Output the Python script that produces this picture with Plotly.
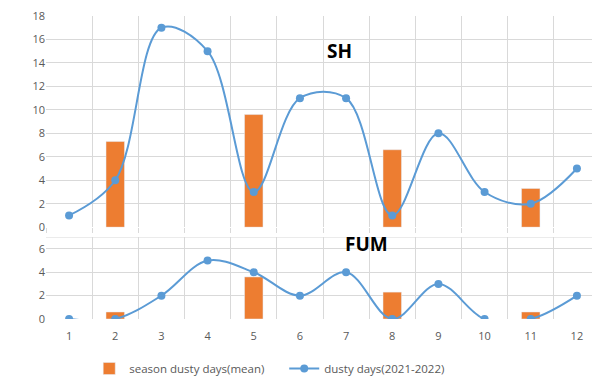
import plotly.graph_objects as go

months = list(range(1, 13))
month_labels = [str(m) for m in months]
sh_dusty = [1, 4, 17, 15, 3, 11, 11, 1, 8, 3, 2, 5]
fum_dusty = [0, 0, 2, 5, 4, 2, 4, 0, 3, 0, 0, 2]
season_months = [2, 5, 8, 11]
sh_season = [7.3, 9.6, 6.6, 3.3]
fum_season = [0.6, 3.6, 2.3, 0.6]

BLUE = "#5B9BD5"
ORANGE = "#ED7D31"
GRID = "#D9D9D9"
TICKC = "#595959"

fig = go.Figure()
fig.add_trace(go.Bar(x=season_months, y=sh_season, marker_color=ORANGE, width=0.4,
                     name="season dusty days(mean)", xaxis="x", yaxis="y"))
fig.add_trace(go.Scatter(x=months, y=sh_dusty, mode="lines+markers",
                         line=dict(color=BLUE, width=2, shape="spline", smoothing=1.0),
                         marker=dict(color=BLUE, size=8),
                         name="dusty days(2021-2022)", xaxis="x", yaxis="y"))
fig.add_trace(go.Bar(x=season_months, y=fum_season, marker_color=ORANGE, width=0.4,
                     showlegend=False, xaxis="x2", yaxis="y2"))
fig.add_trace(go.Scatter(x=months, y=fum_dusty, mode="lines+markers",
                         line=dict(color=BLUE, width=2, shape="spline", smoothing=1.0),
                         marker=dict(color=BLUE, size=8),
                         showlegend=False, xaxis="x2", yaxis="y2"))

bounds = [i + 0.5 for i in range(0, 13)]
xcommon = dict(range=[0.5, 12.5], showgrid=False, zeroline=False,
               minor=dict(tickvals=bounds, showgrid=True, gridcolor=GRID, gridwidth=1))

fig.update_layout(
    width=592, height=375,
    margin=dict(l=38, r=0, t=5, b=63),
    plot_bgcolor="white", paper_bgcolor="white",
    font=dict(family="Open Sans, Liberation Sans, sans-serif", color=TICKC, size=11),
    barmode="overlay",
    xaxis=dict(**xcommon, domain=[0, 1], anchor="y", showticklabels=False,
               minor_ticks="outside", minor_ticklen=5, minor_tickcolor=GRID),
    yaxis=dict(domain=[0.303, 1], range=[0, 18], dtick=2, gridcolor=GRID, zeroline=False,
               showline=False, tickfont=dict(size=11, color=TICKC), ticks="", ticklen=4,
               tickcolor="white", ticklabeloverflow="allow"),
    xaxis2=dict(**xcommon, domain=[0, 1], anchor="y2", tickvals=months, ticktext=month_labels,
                ticks="outside", ticklen=7, tickcolor="white",
                tickfont=dict(size=11, color=TICKC), ticklabeloverflow="allow"),
    yaxis2=dict(domain=[0, 0.270], range=[0, 7], tickvals=[0, 2, 4, 6], gridcolor=GRID,
                zeroline=False, tickfont=dict(size=11, color=TICKC), ticks="", ticklen=4,
                tickcolor="white", ticklabeloverflow="allow"),
    legend=dict(orientation="h", x=0.43, xanchor="center", y=-0.165, yanchor="middle",
                font=dict(size=11.5, color=TICKC), traceorder="normal", entrywidth=150),
    shapes=[dict(type="line", xref="x2 domain", yref="y2", x0=0, x1=1, y0=7, y1=7,
                 line=dict(color=GRID, width=1), layer="below")],
    annotations=[
        dict(text="<b>SH</b>", x=6.85, y=15.0, xref="x", yref="y", showarrow=False,
             font=dict(size=19, color="black", family="Open Sans, sans-serif")),
        dict(text="<b>FUM</b>", x=7.45, y=6.4, xref="x2", yref="y2", showarrow=False,
             font=dict(size=19, color="black", family="Open Sans, sans-serif")),
    ],
)

fig.write_html("out.html")
